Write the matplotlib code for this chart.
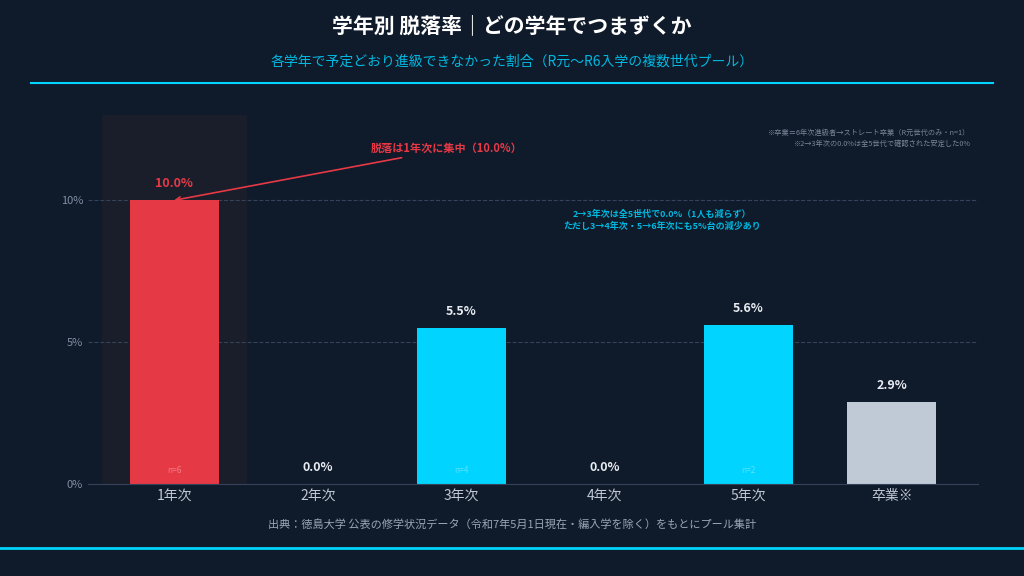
import matplotlib.pyplot as plt
import numpy as np

plt.rcParams['font.family'] = ['Noto Sans CJK JP', 'DejaVu Sans']

categories = ['1年次', '2年次', '3年次', '4年次', '5年次', '卒業※']
rates = [10.0, 0.0, 5.5, 0.0, 5.6, 2.9]
counts = ['n=6', '', 'n=4', '', 'n=2', '']
colors = ['#e63946', '#00d4ff', '#00d4ff', '#00d4ff', '#00d4ff', '#c0cad6']

bg = '#0f1a2a'
fig = plt.figure(figsize=(10.24, 5.76), dpi=100, facecolor=bg)
ax = fig.add_axes([0.086, 0.16, 0.869, 0.64], facecolor=bg)

x = np.arange(len(categories))
ax.axvspan(-0.5, 0.5, color='#1a1e2a', zorder=0)
ax.bar(x, rates, width=0.62, color=colors, zorder=2)
ax.set_xlim(-0.6, 5.6)
ax.set_ylim(0, 13)
ax.set_yticks([0, 5, 10])
ax.set_yticklabels(['0%', '5%', '10%'])
for t in [5, 10]:
    ax.axhline(t, color='#34425a', lw=0.8, ls='--', zorder=1)
ax.set_xticks(x)
ax.set_xticklabels(categories)
ax.tick_params(axis='x', colors='#c0c8d4', labelsize=10, length=0)
ax.tick_params(axis='y', colors='#8090a4', labelsize=8, length=0)
for s in ['top', 'right', 'left']:
    ax.spines[s].set_visible(False)
ax.spines['bottom'].set_color('#34425a')

for i, (v, n) in enumerate(zip(rates, counts)):
    c = '#e63946' if i == 0 else '#e8ecf2'
    ax.text(i, v + 0.35, f'{v:.1f}%', ha='center', va='bottom', color=c, fontsize=9, fontweight='bold')
    if n:
        ax.text(i, 0.3, n, ha='center', va='bottom', color='#ffffff', alpha=0.35, fontsize=6)

ax.annotate('脱落は1年次に集中（10.0%）', xy=(0, 10), xytext=(1.9, 11.6),
            color='#e63946', fontsize=8, fontweight='bold', ha='center', va='bottom',
            arrowprops=dict(arrowstyle='->', color='#e63946', lw=1.2,
                            shrinkA=0, shrinkB=0, relpos=(0.3, 0)))
ax.text(3.4, 9.3, '2→3年次は全5世代で0.0%（1人も減らず）\nただし3→4年次・5→6年次にも5%台の減少あり',
        ha='center', va='center', color='#00b8e0', fontsize=6.5, fontweight='bold', linespacing=1.4)
ax.text(5.55, 12.5, '※卒業＝6年次進級者→ストレート卒業（R元世代のみ・n=1）\n※2→3年次の0.0%は全5世代で確認された安定した0%',
        ha='right', va='top', color='#7a8698', fontsize=5.2, linespacing=1.4, multialignment='right')

fig.text(0.5, 0.955, '学年別 脱落率｜どの学年でつまずくか', ha='center', va='center',
         color='#ffffff', fontsize=15, fontweight='bold')
fig.text(0.5, 0.893, '各学年で予定どおり進級できなかった割合（R元〜R6入学の複数世代プール）',
         ha='center', va='center', color='#00b8e0', fontsize=10)
fig.add_artist(plt.Line2D([0.03, 0.97], [0.856, 0.856], color='#00d4ff', lw=1.5))
fig.text(0.5, 0.09, '出典：徳島大学 公表の修学状況データ（令和7年5月1日現在・編入学を除く）をもとにプール集計',
         ha='center', va='center', color='#9aa6b6', fontsize=8)
fig.add_artist(plt.Line2D([0, 1], [0.049, 0.049], color='#00d4ff', lw=2))

fig.savefig('out.png', dpi=100, facecolor=bg)
